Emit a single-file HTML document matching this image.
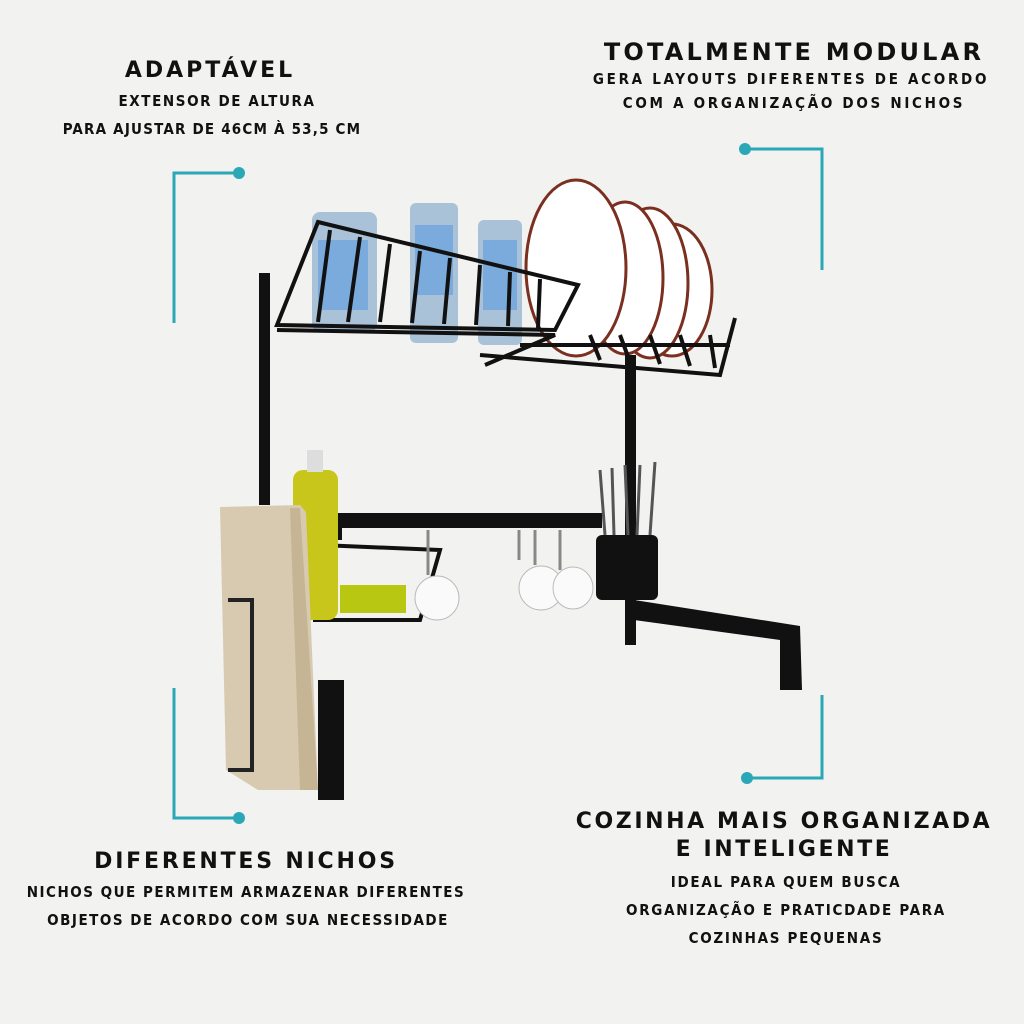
<!DOCTYPE html>
<html><head><meta charset="utf-8"><style>
html,body{margin:0;padding:0}
body{width:1024px;height:1024px;background:#f2f2f1;position:relative;overflow:hidden;font-family:"Liberation Sans",sans-serif;color:#111}
.t{position:absolute;text-align:center;font-weight:bold;white-space:nowrap;transform:translateX(-50%)}
.h{font-size:22px;letter-spacing:1px;font-family:"DejaVu Sans","Liberation Sans",sans-serif;font-weight:900}
.s{font-size:15px;font-family:"DejaVu Sans Condensed","DejaVu Sans",sans-serif}
</style></head><body>
<div class="t h" style="left:210px;top:58px;letter-spacing:3px">ADAPTÁVEL</div>
<div class="t s" style="left:217px;top:92px;letter-spacing:1.6px">EXTENSOR DE ALTURA</div>
<div class="t s" style="left:212px;top:120px;letter-spacing:1.2px">PARA AJUSTAR DE 46CM À 53,5 CM</div>
<div class="t h" style="left:794px;top:38px;font-size:24px;letter-spacing:3.2px">TOTALMENTE MODULAR</div>
<div class="t s" style="left:791px;top:70px;letter-spacing:2.7px">GERA LAYOUTS DIFERENTES DE ACORDO</div>
<div class="t s" style="left:794px;top:94px;letter-spacing:2.7px">COM A ORGANIZAÇÃO DOS NICHOS</div>
<div class="t h" style="left:246px;top:849px;letter-spacing:2.8px">DIFERENTES NICHOS</div>
<div class="t s" style="left:246px;top:883px;letter-spacing:1.5px">NICHOS QUE PERMITEM ARMAZENAR DIFERENTES</div>
<div class="t s" style="left:248px;top:911px;letter-spacing:1.5px">OBJETOS DE ACORDO COM SUA NECESSIDADE</div>
<div class="t h" style="left:784px;top:809px;letter-spacing:2.6px">COZINHA MAIS ORGANIZADA</div>
<div class="t h" style="left:784px;top:837px;letter-spacing:2.6px">E INTELIGENTE</div>
<div class="t s" style="left:786px;top:873px;letter-spacing:1.7px">IDEAL PARA QUEM BUSCA</div>
<div class="t s" style="left:786px;top:901px;letter-spacing:1.7px">ORGANIZAÇÃO E PRATICDADE PARA</div>
<div class="t s" style="left:786px;top:929px;letter-spacing:1.7px">COZINHAS PEQUENAS</div>
<svg width="1024" height="1024" style="position:absolute;left:0;top:0">
<g stroke="#2aa8b8" stroke-width="3" fill="none">
<path d="M239 173H174V323"/><path d="M745 149H822V270"/><path d="M174 688V818H239"/><path d="M822 695V778H747"/>
</g>
<g fill="#2aa8b8"><circle cx="239" cy="173" r="6"/><circle cx="745" cy="149" r="6"/><circle cx="239" cy="818" r="6"/><circle cx="747" cy="778" r="6"/></g>
<g fill="#a9c2d8"><rect x="312" y="212" width="65" height="120" rx="8"/><rect x="410" y="203" width="48" height="140" rx="6"/><rect x="478" y="220" width="44" height="125" rx="6"/></g>
<g fill="#5e9be0" opacity=".6"><rect x="318" y="240" width="50" height="70"/><rect x="415" y="225" width="38" height="70"/><rect x="483" y="240" width="34" height="70"/></g>
<g fill="#fff" stroke="#7a2f1f" stroke-width="3">
<ellipse cx="672" cy="290" rx="40" ry="66"/><ellipse cx="650" cy="283" rx="38" ry="75"/><ellipse cx="625" cy="278" rx="38" ry="76"/><ellipse cx="576" cy="268" rx="50" ry="88"/>
</g>
<g stroke="#111" fill="none" stroke-width="4">
<path d="M277 325L318 222L578 285L555 330Z"/><path d="M277 330L555 335L485 365"/>
<path d="M480 355L720 375L735 318"/><path d="M520 345L730 345"/>
<path d="M330 230L318 322M360 237L348 322M390 244L380 322M420 251L412 323M450 258L444 324M480 265L476 325M510 272L508 326M540 279L538 328"/>
<path d="M590 335L600 360M620 335L630 362M650 335L660 364M680 335L690 366M710 335L715 368"/>
<path d="M340 525L340 540M313 620L420 620L440 550L320 545"/>
</g>
<g fill="#111">
<rect x="259" y="273" width="11" height="232"/><rect x="625" y="355" width="11" height="290"/>
<rect x="337" y="513" width="265" height="15"/>
<path d="M634 600L800 626L802 690L780 690L780 640L634 620Z"/>
<rect x="596" y="535" width="62" height="65" rx="6"/>
<rect x="318" y="680" width="26" height="120"/>
</g>
<g stroke="#555" stroke-width="3"><path d="M600 470L605 535M612 468L614 535M625 465L628 535M640 465L637 535M655 462L650 535"/></g>
<rect x="293" y="470" width="45" height="150" rx="10" fill="#c8c61a"/>
<rect x="307" y="450" width="16" height="22" fill="#ddd"/>
<rect x="340" y="585" width="66" height="28" fill="#b8c812"/>
<path d="M220 507L300 505L306 512L318 790L258 790L226 770Z" fill="#d8cab0"/>
<path d="M300 508L318 790L300 790L290 508Z" fill="#c6b594"/>
<path d="M228 600L252 600L252 770L228 770" stroke="#222" stroke-width="4" fill="none"/>
<g fill="#fafafa" stroke="#bbb"><ellipse cx="437" cy="598" rx="22" ry="22"/><ellipse cx="541" cy="588" rx="22" ry="22"/><ellipse cx="573" cy="588" rx="20" ry="21"/></g>
<g stroke="#888" stroke-width="3" fill="none"><path d="M428 530V575M519 530V560M535 530V565M560 530V570"/></g>
</svg>
</body></html>
